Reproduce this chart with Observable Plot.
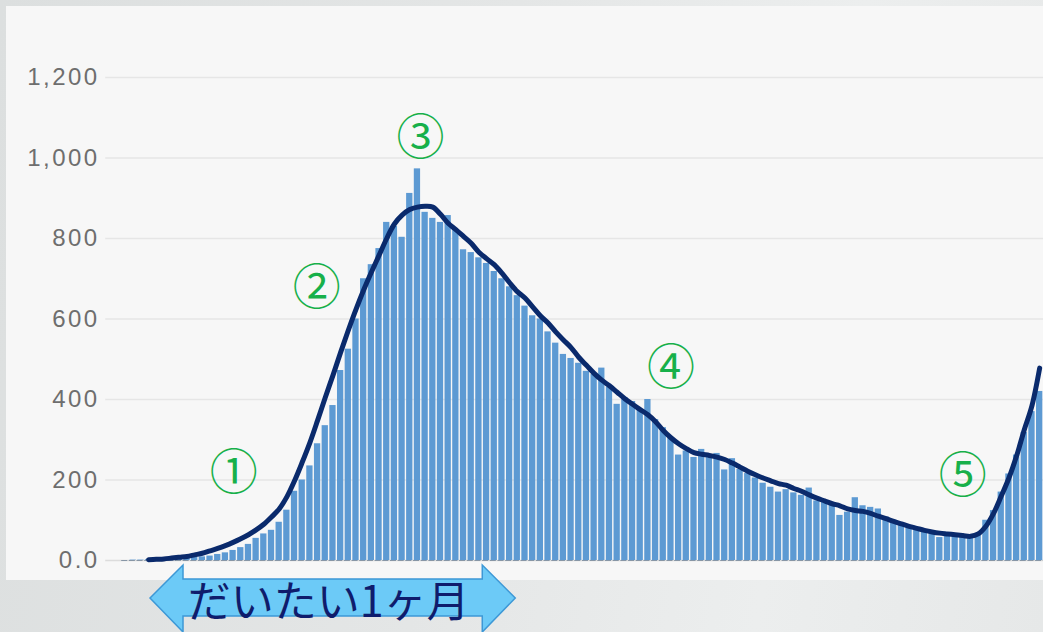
<!DOCTYPE html>
<html>
<head>
<meta charset="utf-8">
<script src="https://cdn.jsdelivr.net/npm/d3@7"></script>
<script src="https://cdn.jsdelivr.net/npm/@observablehq/plot@0.6"></script>
<style>
  html, body { margin: 0; padding: 0; }
  body { width: 1043px; height: 632px; overflow: hidden;
         background: linear-gradient(100deg, #dcdfdf 0%, #e4e6e6 45%, #eceeee 75%, #e6e8e8 100%); }
  #wrap { position: relative; width: 1043px; height: 632px; }
  #panel { position: absolute; left: 6px; top: 6px; width: 1037px; height: 574px; background: #f7f7f7; }
  #chart { position: absolute; left: 0; top: 0; }
  #chart svg { overflow: hidden; }
  #chart [aria-label="y-axis tick label"] text { letter-spacing: 2.5px; }
</style>
</head>
<body>
<div id="wrap"><div id="panel"></div><div id="chart"></div></div>
<script>
// Daily values (bars)
const cases = [0,1,1,2,3,3,4,5,6,8,9,11,15,19,25,32,40,55,66,75,
  95,125,172,200,235,290,335,385,472,525,600,700,735,775,840,830,803,912,973,865,
  850,840,857,820,772,765,752,738,718,700,680,658,632,608,600,568,540,512,502,490,
  470,462,478,430,388,405,395,375,400,350,330,305,262,272,256,276,258,266,225,253,
  226,216,205,192,182,170,176,168,162,180,148,146,142,112,120,156,136,132,128,108,
  100,94,84,79,71,67,57,62,60,57,56,66,100,124,170,215,262,318,370,420];
// Smoothed trend line
const trend = [null,null,null,2,3,4,6,8,10,14,18,24,30,37,45,54,64,76,90,108,
  128,158,198,244,293,348,405,460,517,572,624,672,716,758,800,836,858,872,878,880,
  878,860,838,822,805,788,766,750,735,714,690,668,652,630,608,590,568,548,529,505,
  485,465,448,434,418,402,388,375,362,345,323,305,290,278,268,264,261,257,251,242,
  232,222,213,205,198,191,187,179,172,163,155,148,141,136,128,124,122,117,110,104,
  97,91,85,80,75,71,68,66,64,62,60,66,85,117,160,205,260,325,385,478];
const yTicks = [0, 200, 400, 600, 800, 1000, 1200];
// Annotations
const noteLabels = ["①", "②", "③", "④", "⑤"];
const noteDay = [14.1, 24.9, 38.4, 71.0, 109.0];
const noteValue = [216, 676, 1048, 477, 209];
const arrowSpan = [3.75, 51.3];
const arrowText = "だいたい1ヶ月";

const days = d3.range(cases.length);
const data = days.map(i => ({day: i, cases: cases[i], trend: trend[i]}));
const notes = noteLabels.map((t, k) => ({t, day: noteDay[k], v: noteValue[k]}));

const fmt = d3.format(",");
const plot = Plot.plot({
  width: 1043,
  height: 632,
  marginLeft: 121.2,
  marginRight: 0,
  marginTop: 77,
  marginBottom: 72,
  style: {background: "transparent", fontFamily: "Liberation Sans, Arial, sans-serif"},
  x: {domain: [0, cases.length], axis: null},
  y: {domain: [0, 1200], axis: null},
  marks: [
    Plot.ruleY(yTicks.filter(d => d > 0), {stroke: "#e6e6e6", strokeWidth: 1.5, insetLeft: -16}),
    Plot.ruleY([0], {stroke: "#dcdcdc", strokeWidth: 1.5, insetLeft: -16}),
    Plot.axisY(yTicks, {
      tickSize: 0, tickPadding: 22, fontSize: 24, fill: "#6e6e6e",
      tickFormat: d => d === 0 ? "0.0" : fmt(d)
    }),
    Plot.rectY(data, {x: "day", y: "cases", interval: 1, fill: "#5d9ad3", insetLeft: 0.7, insetRight: 0.7}),
    Plot.ruleY([0], {stroke: "#8796a6", strokeWidth: 1.2, strokeDasharray: "6,1.68"}),
    Plot.line(data.filter(d => d.trend != null), {
      x: d => d.day + 0.5, y: "trend", stroke: "#0a2a6c", strokeWidth: 5,
      curve: "catmull-rom", strokeLinejoin: "round", strokeLinecap: "round"
    }),
    Plot.text(notes, {
      x: d => d.day + 0.5, y: "v", text: "t", fontSize: 48, fill: "#17b04a",
      fontFamily: "Noto Sans CJK JP", lineAnchor: "middle", textAnchor: "middle"
    })
  ]
});
document.getElementById("chart").appendChild(plot);

// Double-headed arrow with caption, positioned with the x scale
const sx = plot.scale("x");
const xa = sx.apply(arrowSpan[0]), xb = sx.apply(arrowSpan[1]);
const head = 33, yTip = 598, yHt = 565, yHb = 632, ySt = 579, ySb = 616;
const pts = [
  [xa, yTip], [xa + head, yHt], [xa + head, ySt], [xb - head, ySt], [xb - head, yHt],
  [xb, yTip], [xb - head, yHb], [xb - head, ySb], [xa + head, ySb], [xa + head, yHb]
];
const svg = d3.select(plot);
svg.append("polygon")
  .attr("points", pts.map(p => p.join(",")).join(" "))
  .attr("fill", "#6ccaf7").attr("stroke", "#3d98d6").attr("stroke-width", 1.5);
svg.append("text")
  .attr("x", (xa + xb) / 2 - 4).attr("y", 598)
  .attr("text-anchor", "middle").attr("dominant-baseline", "central")
  .attr("font-family", "Noto Sans CJK JP").attr("font-size", 43).attr("font-weight", 400)
  .attr("fill", "#0f1c6c")
  .text(arrowText);
</script>
</body>
</html>
